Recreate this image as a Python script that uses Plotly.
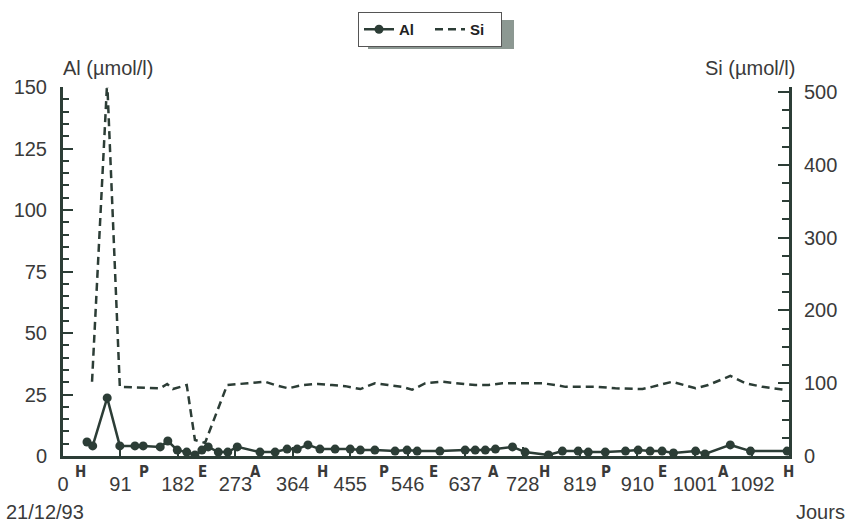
import plotly.graph_objects as go

# ---------------- data ----------------
al_days = [38, 47, 70, 90, 114, 127, 154, 166, 181, 196, 209, 220, 230, 246, 261, 276,
           312, 336, 355, 371, 388, 407, 431, 455, 471, 494, 526, 545, 561, 597, 637,
           653, 669, 685, 712, 732, 769, 791, 816, 832, 859, 891, 911, 930, 949, 967,
           1002, 1017, 1057, 1089, 1147]
al_values = [5.7, 4.1, 23.6, 4.1, 4.1, 4.1, 3.7, 6.1, 2.4, 1.6, 0.4, 2.4, 3.7, 1.6, 1.6, 3.7,
             1.6, 1.6, 2.8, 2.8, 4.5, 2.8, 2.8, 2.8, 2.4, 2.4, 2.0, 2.4, 2.0, 2.0, 2.4,
             2.4, 2.4, 2.8, 3.7, 1.6, 0.4, 2.0, 2.0, 1.6, 1.6, 2.0, 2.4, 2.0, 2.0, 1.2,
             2.0, 0.8, 4.5, 2.0, 2.0]

si_days = [46, 70, 90, 154, 165, 174, 196, 209, 225, 260, 293, 320, 336, 357, 379, 404,
           426, 447, 471, 494, 515, 537, 553, 574, 601, 626, 653, 674, 696, 716, 759,
           780, 796, 823, 848, 875, 918, 933, 965, 1002, 1022, 1057, 1081, 1108, 1144]
si_values = [102, 515, 95, 93, 99, 92, 97.5, 22, 18, 97.5, 100, 102, 97.5, 93, 97.5, 99,
             97.5, 96, 92, 100, 97.5, 95, 91, 100, 102, 100, 97.5, 97.5, 100, 100, 100,
             97.5, 95, 95, 95, 93, 92, 95, 102, 93, 97.5, 110, 100, 95, 91]

x_tick_vals = [0, 91, 182, 273, 364, 455, 546, 637, 728, 819, 910, 1001, 1092]
x_tick_text = [str(v) for v in x_tick_vals]

season_labels = ["H", "P", "E", "A", "H", "P", "E", "A", "H", "P", "E", "A", "H"]
season_days = [28, 128, 221, 305, 411, 508, 587, 682, 762, 860, 950, 1046, 1149]

# ---------------- style ----------------
INK = "#2c3d36"
TXT = "#3a3a3a"
FONT = "Liberation Sans, Arial, sans-serif"

fig = go.Figure()
fig.add_trace(go.Scatter(
    x=al_days, y=al_values, name="Al", mode="lines+markers",
    line=dict(color=INK, width=2.5),
    marker=dict(color=INK, size=9, symbol="circle"),
    yaxis="y",
))
fig.add_trace(go.Scatter(
    x=si_days, y=si_values, name="Si", mode="lines",
    line=dict(color=INK, width=2.5, dash="8px,5px"),
    yaxis="y2",
))

L, R, T, B = 63, 69, 87, 71
W, H = 858, 527
pw, ph = W - L - R, H - T - B


def px(xp):
    return (xp - L) / pw


def py(yp):
    return (H - B - yp) / ph


annotations = [
    dict(text="Al (µmol/l)", x=px(61), y=py(68), xref="paper", yref="paper",
         xanchor="left", yanchor="middle", showarrow=False,
         font=dict(size=20, color=TXT, family=FONT)),
    dict(text="Si (µmol/l)", x=px(797), y=py(68), xref="paper", yref="paper",
         xanchor="right", yanchor="middle", showarrow=False,
         font=dict(size=20, color=TXT, family=FONT)),
    dict(text="21/12/93", x=px(4), y=py(512), xref="paper", yref="paper",
         xanchor="left", yanchor="middle", showarrow=False,
         font=dict(size=20, color=TXT, family=FONT)),
    dict(text="Jours", x=px(847), y=py(512), xref="paper", yref="paper",
         xanchor="right", yanchor="middle", showarrow=False,
         font=dict(size=20, color=TXT, family=FONT)),
]
for lab, d in zip(season_labels, season_days):
    annotations.append(dict(
        text="<b>%s</b>" % lab, x=d, y=py(472), xref="x", yref="paper",
        xanchor="center", yanchor="middle", showarrow=False,
        font=dict(size=15, color=TXT, family="DejaVu Sans Condensed, DejaVu Sans")))

shapes = [
    # legend shadow
    dict(type="rect", xref="paper", yref="paper",
         x0=px(368), x1=px(514), y0=py(49), y1=py(20),
         fillcolor="#8c9892", line=dict(width=0), layer="below"),
]

fig.update_layout(
    width=W, height=H,
    margin=dict(l=L, r=R, t=T, b=B, autoexpand=False),
    paper_bgcolor="white", plot_bgcolor="white",
    font=dict(family=FONT, size=20, color=TXT),
    showlegend=True,
    legend=dict(
        orientation="h", x=px(358), xanchor="left", y=py(12), yanchor="top",
        bgcolor="white", bordercolor="#555", borderwidth=1,
        font=dict(size=15, color="#222", family=FONT, weight="bold"),
        itemwidth=30, entrywidth=26, tracegroupgap=0,
    ),
    xaxis=dict(
        range=[0, 1150], tickvals=x_tick_vals, ticktext=x_tick_text,
        ticks="inside", ticklen=9, tickwidth=1.5, tickcolor=INK,
        showline=True, linecolor=INK, linewidth=3, showgrid=False, zeroline=False,
        tickfont=dict(size=20, color=TXT), fixedrange=True,
        ticklabelstandoff=8,
    ),
    yaxis=dict(
        range=[0, 150], dtick=25, ticks="inside", ticklen=10, tickwidth=2,
        tickcolor=INK, showline=True, linecolor=INK, linewidth=3,
        showgrid=False, zeroline=False, tickfont=dict(size=20, color=TXT),
        minor=dict(dtick=5, ticks="inside", ticklen=6, tickwidth=2, tickcolor=INK),
        ticklabelstandoff=9,
    ),
    yaxis2=dict(
        range=[0, 507], dtick=100, ticks="inside", ticklen=11, tickwidth=2,
        tickcolor=INK, showline=True, linecolor=INK, linewidth=3,
        showgrid=False, zeroline=False, tickfont=dict(size=20, color=TXT),
        minor=dict(dtick=25, ticks="inside", ticklen=7, tickwidth=2, tickcolor=INK),
        overlaying="y", side="right", anchor="x",
        ticklabelstandoff=8,
    ),
    annotations=annotations,
    shapes=shapes,
)

fig.write_html("out.html", config={"displayModeBar": False},
               post_script="document.body.style.margin='0px';")
